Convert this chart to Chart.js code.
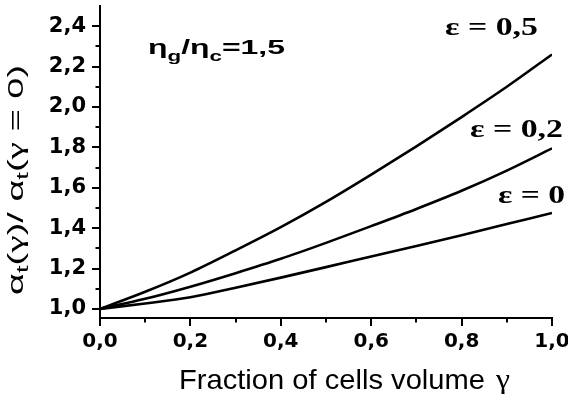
<!DOCTYPE html>
<html><head><meta charset="utf-8">
<script src="https://cdn.jsdelivr.net/npm/chart.js@4/dist/chart.umd.min.js"></script>
<style>html,body{margin:0;padding:0;background:#fff;overflow:hidden;}#wrap{width:568px;height:402px;}</style>
</head><body><div id="wrap"><canvas id="c" width="568" height="402"></canvas></div>
<script>
// ---- data ----
const gamma = [0, 0.1, 0.2, 0.3, 0.4, 0.5, 0.6, 0.7, 0.8, 0.9, 1.0];
const eps05 = [1.0, 1.085, 1.18, 1.29, 1.405, 1.53, 1.665, 1.805, 1.95, 2.10, 2.26];
const eps02 = [1.0, 1.05, 1.11, 1.177, 1.248, 1.327, 1.41, 1.495, 1.585, 1.685, 1.795];
const eps00 = [1.0, 1.027, 1.058, 1.105, 1.155, 1.207, 1.26, 1.312, 1.365, 1.42, 1.475];
const seriesLabels = ['ε = 0,5', 'ε = 0,2', 'ε = 0'];
const xTicks = [0, 0.2, 0.4, 0.6, 0.8, 1.0];
const yTicks = [1.0, 1.2, 1.4, 1.6, 1.8, 2.0, 2.2, 2.4];
const xMinor = [0.1, 0.3, 0.5, 0.7, 0.9];
const yMinor = [1.1, 1.3, 1.5, 1.7, 1.9, 2.1, 2.3];
const ratioLabel = '=1,5';

const toPts = arr => gamma.map((g, i) => ({x: g, y: arr[i]}));
const fmt = v => v.toFixed(1).replace('.', ',');

function fitText(ctx, pieces, x, y, targetW) {
  // pieces: [text, font, dy]
  let w = 0;
  pieces.forEach(p => { ctx.font = p[1]; w += ctx.measureText(p[0]).width; });
  const sx = targetW ? targetW / w : 1;
  ctx.save();
  ctx.translate(x, y);
  ctx.scale(sx, 1);
  let cx = 0;
  pieces.forEach(p => { ctx.font = p[1]; ctx.fillText(p[0], cx, p[2] || 0); cx += ctx.measureText(p[0]).width; });
  ctx.restore();
}

const deco = {
  id: 'deco',
  afterDraw(chart) {
    const ctx = chart.ctx;
    const xs = chart.scales.x, ys = chart.scales.y;
    const ca = chart.chartArea;
    ctx.save();
    ctx.strokeStyle = '#000';
    ctx.lineWidth = 2;
    xMinor.forEach(v => {
      const px = Math.round(xs.getPixelForValue(v));
      ctx.beginPath(); ctx.moveTo(px, ca.bottom); ctx.lineTo(px, ca.bottom + 4.5); ctx.stroke();
    });
    yMinor.forEach(v => {
      const py = Math.round(ys.getPixelForValue(v));
      ctx.beginPath(); ctx.moveTo(ca.left, py); ctx.lineTo(ca.left - 4.5, py); ctx.stroke();
    });
    ctx.fillStyle = '#000';
    ctx.textBaseline = 'alphabetic';
    ctx.textAlign = 'left';
    // x title
    fitText(ctx, [['Fraction of cells volume', '28px "Liberation Sans"', 0]], 179, 389, 306);
    fitText(ctx, [['γ', '27px "Liberation Serif"', 0]], 496, 388, 14);
    // ratio label
    const B = 'bold 20px "Liberation Sans"', S = 'bold 14px "Liberation Sans"';
    fitText(ctx, [['η', B, 0], ['g', S, 7], ['/η', B, 0], ['c', S, 7], [ratioLabel, B, 0]], 148, 54, 137);
    // epsilon labels
    const E = 'bold 26px "Liberation Serif"';
    fitText(ctx, [[seriesLabels[0], E, 0]], 445, 35, 93);
    fitText(ctx, [[seriesLabels[1], E, 0]], 470, 137, 93);
    fitText(ctx, [[seriesLabels[2], E, 0]], 498, 203, 67);
    // y title (rotated)
    ctx.save();
    ctx.translate(23, 295);
    ctx.rotate(-Math.PI / 2);
    const M = '22px "Liberation Sans"', T = '16px "Liberation Sans"', G = '23px "Liberation Serif"';
    fitText(ctx, [['α', M, 0], ['t', T, 5], ['(', M, 0], ['γ', G, 0], [')/ ', M, 0], ['α', M, 0], ['t', T, 5], ['(', M, 0], ['γ', G, 0], [' = 0)', M, 0]], 0, 0, 230);
    ctx.restore();
    ctx.restore();
  }
};

const lineDs = (lab, arr) => ({
  label: lab, data: toPts(arr), borderColor: '#000', borderWidth: 2.6,
  pointRadius: 0, fill: false, cubicInterpolationMode: 'monotone'
});

new Chart(document.getElementById('c'), {
  type: 'line',
  data: { datasets: [lineDs(seriesLabels[0], eps05), lineDs(seriesLabels[1], eps02), lineDs(seriesLabels[2], eps00)] },
  options: {
    responsive: false, animation: false, devicePixelRatio: 1,
    layout: { padding: { top: 6, right: 16, left: 0, bottom: 0 } },
    plugins: { legend: { display: false }, tooltip: { enabled: false } },
    scales: {
      x: {
        type: 'linear', min: 0, max: 1,
        afterBuildTicks: s => { s.ticks = xTicks.map(v => ({value: v})); },
        afterFit: s => { s.height = 84; s.paddingLeft = 0; s.paddingRight = 0; },
        ticks: { callback: v => fmt(v), color: '#000', font: { family: 'DejaVu Sans', weight: 'bold', size: 20 }, padding: 4, maxRotation: 0, autoSkip: false },
        grid: { drawOnChartArea: false, tickLength: 8, color: '#000', lineWidth: 2 },
        border: { color: '#000', width: 2 }
      },
      y: {
        type: 'linear', min: 0.955, max: 2.5,
        afterBuildTicks: s => { s.ticks = yTicks.map(v => ({value: v})); },
        afterFit: s => { s.width = 100; s.paddingTop = 0; s.paddingBottom = 0; },
        ticks: { callback: v => fmt(v), color: '#000', font: { family: 'DejaVu Sans', weight: 'bold', size: 21 }, padding: 6, autoSkip: false },
        grid: { drawOnChartArea: false, tickLength: 8, color: '#000', lineWidth: 2 },
        border: { color: '#000', width: 2 }
      }
    }
  },
  plugins: [deco]
});
</script></body></html>
